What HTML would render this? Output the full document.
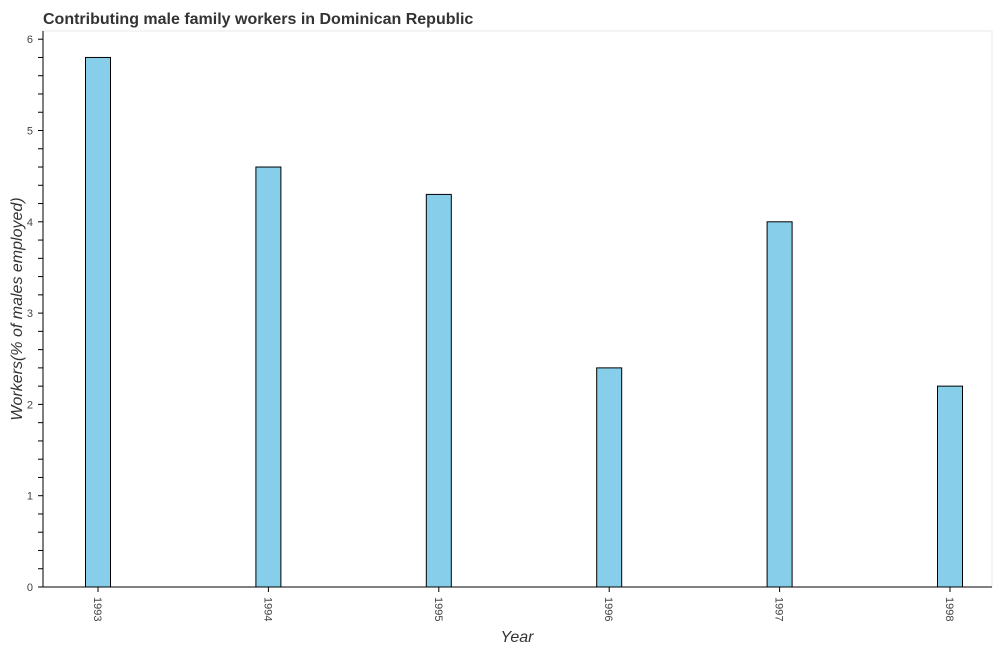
<!DOCTYPE html>
<html><head><style>
body{margin:0;background:#fff;font-family:"Liberation Sans",sans-serif;}
svg text{font-family:"Liberation Sans",sans-serif;}
</style></head><body>
<svg id="chart" width="997" height="650">
<rect x="43" y="31" width="949" height="556" fill="#fff" stroke="#e8e8e8"/>
<text x="43" y="24" font-size="16" font-weight="bold" fill="#333">Contributing male family workers in Dominican Republic</text>
<text transform="translate(22,309) rotate(-90)" text-anchor="middle" font-size="16" font-style="italic" fill="#333">Workers(% of males employed)</text>
<text x="517" y="642" text-anchor="middle" font-size="16" font-style="italic" fill="#333">Year</text>
<g id="g"></g>
</svg>
<script>
const categories=["1993","1994","1995","1996","1997","1998"];
const values=[5.8,4.6,4.3,2.4,4.0,2.2];
const yTicks=[0,1,2,3,4,5,6];
const ns="http://www.w3.org/2000/svg";
const g=document.getElementById('g');
const y0=587,pxPer=91.3;
function y(v){return y0-v*pxPer;}
function x(i){return 98+i*170.4;}
function mk(t,a){const e=document.createElementNS(ns,t);for(const k in a)e.setAttribute(k,a[k]);g.appendChild(e);return e;}
const ax=mk('line',{x1:43,y1:31,x2:43,y2:587,stroke:'#000'});


const bx=mk('line',{x1:43,y1:587,x2:992,y2:587,stroke:'#000'});


for(let v=0;v<=6.001;v+=0.2){const l=mk('line',{x1:38,x2:43,y1:y(v),y2:y(v),stroke:'#000'});

}
yTicks.forEach(v=>{const t=mk('text',{x:33,y:y(v)+4,'text-anchor':'end','font-size':11,fill:'#444'});t.textContent=v;

});
categories.forEach((c,i)=>{
const r=mk('rect',{x:x(i)-12.5,y:y(values[i]),width:25,height:values[i]*pxPer,fill:'#87ceeb',stroke:'#000','stroke-width':1});


mk('line',{x1:x(i),x2:x(i),y1:587,y2:592,stroke:'#000'});
const t=mk('text',{transform:`translate(${x(i)-4},597) rotate(90)`,'font-size':11,fill:'#444'});t.textContent=c;


});
</script>
</body></html>
